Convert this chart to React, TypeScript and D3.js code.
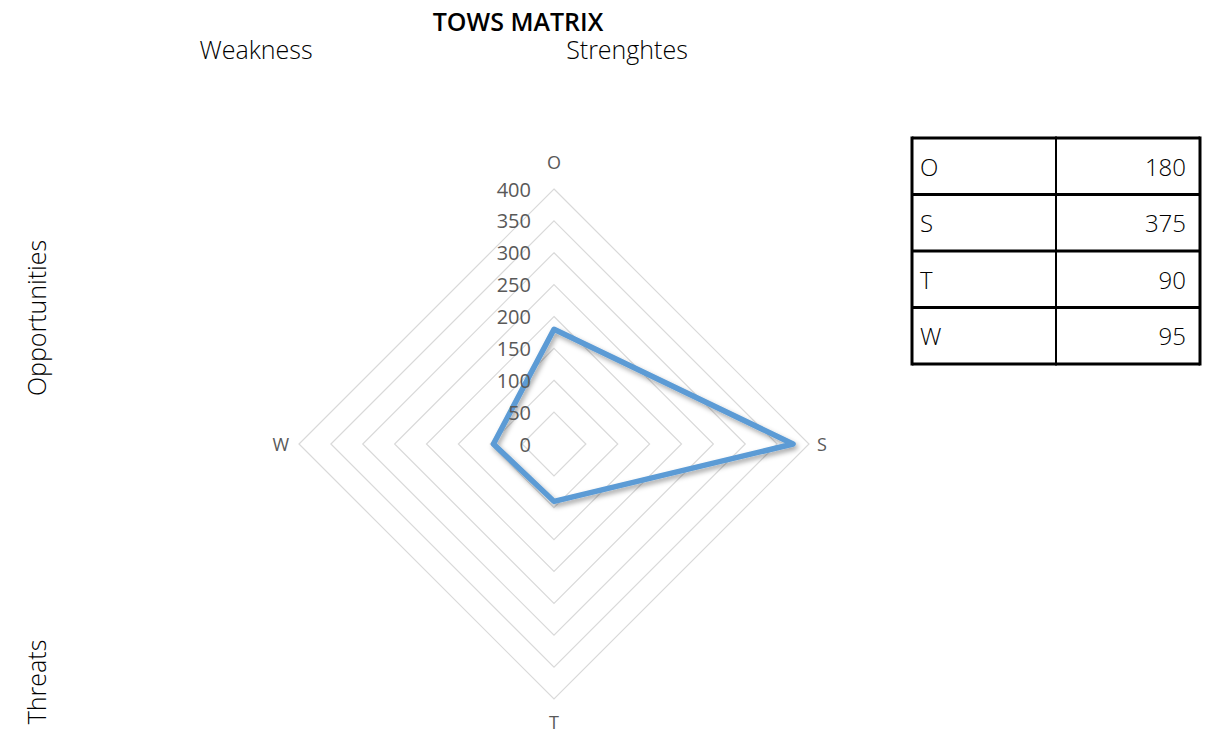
import React from "react";
import * as d3 from "d3";

const categories = ["O", "S", "T", "W"];
const values = [180, 375, 90, 95];
const tickValues = [0, 50, 100, 150, 200, 250, 300, 350, 400];
const tableRows = [
  { label: "O", value: 180 },
  { label: "S", value: 375 },
  { label: "T", value: 90 },
  { label: "W", value: 95 },
];

const W = 1209;
const H = 743;
const cx = 554;
const cy = 444;
const R = 255;
const FONT = "'Open Sans', 'Noto Sans', sans-serif";

export default function App() {
  const r = d3.scaleLinear().domain([0, 400]).range([0, R]);
  const angle = (i: number) => (i * 2 * Math.PI) / categories.length;
  const pt = (i: number, v: number): [number, number] => [
    cx + r(v) * Math.sin(angle(i)),
    cy - r(v) * Math.cos(angle(i)),
  ];
  const line = d3.line<[number, number]>().curve(d3.curveLinearClosed);
  const rings = tickValues.filter((t) => t > 0);
  const dataPts = values.map((v, i) => pt(i, v));

  const tX0 = 912, tX1 = 1056, tX2 = 1200, tY0 = 138, rowH = 56.5;

  return (
    <svg width={W} height={H} style={{ position: "absolute", left: 0, top: 0, background: "#fff" }} fontFamily={FONT}>
      <defs>
        <filter id="sh" x="-20%" y="-20%" width="140%" height="140%">
          <feDropShadow dx="2" dy="3" stdDeviation="2.5" floodColor="#000" floodOpacity="0.35" />
        </filter>
      </defs>
      <rect width={W} height={H} fill="#fff" />
      <text x={518} y={31} textAnchor="middle" fontSize={25} fontWeight={600} fill="#000">TOWS MATRIX</text>
      <text x={256} y={59} textAnchor="middle" fontSize={25} fill="#000" fontWeight={300}>Weakness</text>
      <text x={627} y={59} textAnchor="middle" fontSize={25} fill="#000" fontWeight={300}>Strenghtes</text>
      <text transform="translate(46,318) rotate(-90)" textAnchor="middle" fontSize={25} fill="#000" fontWeight={300}>Opportunities</text>
      <text transform="translate(46,682) rotate(-90)" textAnchor="middle" fontSize={25} fill="#000" fontWeight={300}>Threats</text>

      {rings.map((t) => (
        <path
          key={t}
          d={line(categories.map((_, i) => pt(i, t))) || ""}
          fill="none"
          stroke="#d9d9d9"
          strokeWidth={1.2}
        />
      ))}
      {categories.map((c, i) => {
        const [x, y] = pt(i, 400);
        const off = [
          [0, -27],
          [8, 0],
          [0, 23],
          [-10, 0],
        ][i];
        return (
          <text key={c} x={x + off[0]} y={y + off[1]} textAnchor={i === 1 ? "start" : i === 3 ? "end" : "middle"} dominantBaseline="central" fontSize={18} fill="#595959">
            {c}
          </text>
        );
      })}
      <path d={line(dataPts) || ""} fill="none" stroke="#5b9bd5" strokeWidth={5.5} strokeLinejoin="round" filter="url(#sh)" />
      {tickValues.map((t) => (
        <text key={t} x={531} y={cy - r(t)} textAnchor="end" dominantBaseline="central" fontSize={20} fill="#595959">
          {t}
        </text>
      ))}

      {tableRows.map((row, i) => (
        <g key={row.label}>
          <text x={tX0 + 8} y={tY0 + rowH * i + rowH / 2} dominantBaseline="central" fontSize={24} fontWeight={300} fill="#000">{row.label}</text>
          <text x={tX2 - 14} y={tY0 + rowH * i + rowH / 2} dominantBaseline="central" textAnchor="end" fontSize={24} fontWeight={300} fill="#000">{row.value}</text>
        </g>
      ))}
      {d3.range(tableRows.length + 1).map((i) => (
        <line key={i} x1={tX0} x2={tX2} y1={tY0 + rowH * i} y2={tY0 + rowH * i} stroke="#000" strokeWidth={3} />
      ))}
      {[tX0, tX1, tX2].map((x) => (
        <line key={x} x1={x} x2={x} y1={tY0 - 1.5} y2={tY0 + rowH * tableRows.length + 1.5} stroke="#000" strokeWidth={x === tX1 ? 2 : 3} />
      ))}
    </svg>
  );
}
